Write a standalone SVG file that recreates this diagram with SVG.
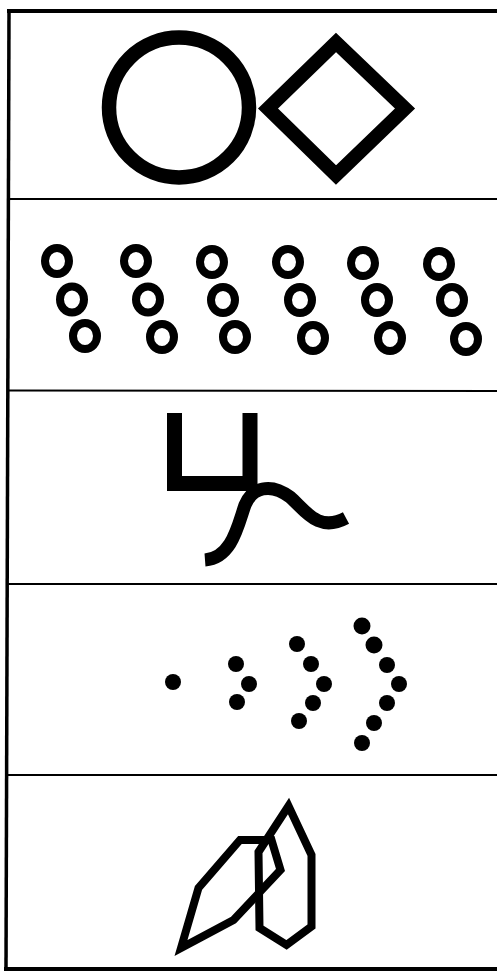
<svg xmlns="http://www.w3.org/2000/svg" width="497" height="972" viewBox="0 0 497 972">
<style>
.frame{stroke:#000;fill:none;stroke-linecap:square}
.sep{stroke:#000;stroke-width:2;fill:none}
.ring{fill:none;stroke:#000;stroke-width:8}
.dot{fill:#000}
.thick{fill:none;stroke:#000;stroke-linejoin:miter}
</style>
<rect width="497" height="972" fill="#fff"/>
<g id="frame">
<line class="frame" x1="9" y1="11" x2="497" y2="11" stroke-width="4"/>
<line class="frame" x1="9" y1="11" x2="6" y2="969" stroke-width="3.5"/>
<line class="frame" x1="6" y1="969" x2="497" y2="969" stroke-width="4"/>
<line class="sep" x1="9" y1="199" x2="497" y2="199"/>
<line class="sep" x1="8" y1="390.5" x2="497" y2="391"/>
<line class="sep" x1="8" y1="584" x2="497" y2="584"/>
<line class="sep" x1="7" y1="775" x2="497" y2="775"/>
</g>
<g id="panel1">
<circle cx="179" cy="107.5" r="70" class="thick" stroke-width="14.5"/>
<polygon points="268,108.5 336,42.5 405,108.5 336,175" class="thick" stroke-width="14"/>
</g>
<g id="panel2">
<ellipse class="ring" cx="57" cy="261" rx="12" ry="13" stroke-width="9.5"/>
<ellipse class="ring" cx="136" cy="261" rx="12" ry="13"/>
<ellipse class="ring" cx="212" cy="262" rx="12" ry="13"/>
<ellipse class="ring" cx="288" cy="262" rx="12" ry="13"/>
<ellipse class="ring" cx="363" cy="263" rx="12" ry="13"/>
<ellipse class="ring" cx="439" cy="264" rx="12" ry="13"/>
<ellipse class="ring" cx="72" cy="299.5" rx="12" ry="13"/>
<ellipse class="ring" cx="148" cy="299.5" rx="12" ry="13"/>
<ellipse class="ring" cx="223" cy="300" rx="12" ry="13"/>
<ellipse class="ring" cx="300" cy="300" rx="12" ry="13"/>
<ellipse class="ring" cx="377" cy="300" rx="12" ry="13"/>
<ellipse class="ring" cx="452" cy="300" rx="12" ry="13"/>
<ellipse class="ring" cx="85" cy="336" rx="12" ry="13"/>
<ellipse class="ring" cx="162" cy="337" rx="12" ry="13"/>
<ellipse class="ring" cx="235" cy="337" rx="12" ry="13"/>
<ellipse class="ring" cx="313" cy="338" rx="12" ry="13"/>
<ellipse class="ring" cx="390" cy="338" rx="12" ry="13"/>
<ellipse class="ring" cx="466" cy="339" rx="12" ry="13"/>
</g>
<g id="panel3">
<polyline points="174.5,413 174.5,483.5 250,483.5 250,413" class="thick" stroke-width="15"/>
<path d="M205,560 C232,558 238,525 245,505 C252,488 270,482 290,497 C305,510 318,533 346,518" class="thick" stroke-width="13"/>
</g>
<g id="panel4">
<circle class="dot" cx="173" cy="682" r="8"/>
<circle class="dot" cx="236" cy="664" r="8"/>
<circle class="dot" cx="249" cy="684" r="8"/>
<circle class="dot" cx="237" cy="702" r="8"/>
<circle class="dot" cx="297" cy="644" r="8"/>
<circle class="dot" cx="311" cy="664" r="8"/>
<circle class="dot" cx="324" cy="684" r="8"/>
<circle class="dot" cx="313" cy="703" r="8"/>
<circle class="dot" cx="299" cy="721" r="8"/>
<circle class="dot" cx="362" cy="626" r="8.5"/>
<circle class="dot" cx="374" cy="645" r="8.5"/>
<circle class="dot" cx="387" cy="665" r="8"/>
<circle class="dot" cx="399" cy="684" r="8"/>
<circle class="dot" cx="387" cy="703" r="8"/>
<circle class="dot" cx="374" cy="723" r="8"/>
<circle class="dot" cx="362" cy="743" r="8"/>
</g>
<g id="panel5">
<polygon points="181,948 198.5,888 240,840 271.5,840 280.5,870 233.5,920" class="thick" stroke-width="8"/>
<polygon points="288.5,806 311.5,855 311.5,926.5 286.5,945 259.5,928 258.5,852" class="thick" stroke-width="8"/>
</g>
</svg>
